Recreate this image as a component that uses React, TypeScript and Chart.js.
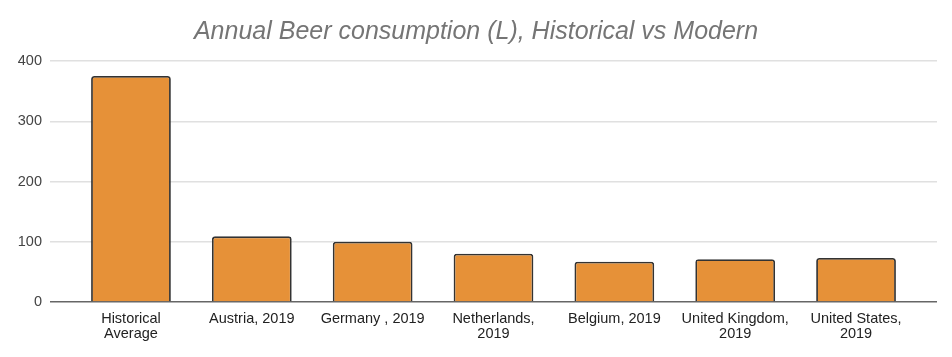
import React, { useEffect, useRef } from "react";
import { Chart, registerables } from "chart.js";

Chart.register(...registerables);

const categories: (string | string[])[] = [
  ["Historical", "Average"],
  "Austria, 2019",
  "Germany , 2019",
  ["Netherlands,", "2019"],
  "Belgium, 2019",
  ["United Kingdom,", "2019"],
  ["United States,", "2019"],
];
const consumption = [375, 109, 100, 80, 67, 71, 73];
const yTicks = [0, 100, 200, 300, 400];
const titleText = "Annual Beer consumption (L), Historical vs Modern";

const FONT = "'Liberation Sans', Arial, sans-serif";

export default function App() {
  const ref = useRef<HTMLCanvasElement>(null);
  useEffect(() => {
    document.body.style.margin = "0";
    const ctx = ref.current!;
    const chart = new Chart(ctx, {
      type: "bar",
      data: {
        datasets: [
          {
            data: consumption.map((v, i) => ({ x: i, y: v })),
            backgroundColor: "#e69138",
            borderColor: "#333333",
            borderWidth: 1.8,
            borderSkipped: "bottom",
            borderRadius: { topLeft: 3, topRight: 3, bottomLeft: 0, bottomRight: 0 },
            barPercentage: 0.66,
            categoryPercentage: 1,
          },
        ],
      },
      options: {
        animation: false,
        responsive: false,
        maintainAspectRatio: false,
        layout: { padding: { left: 15, right: 15, top: 0, bottom: 0 } },
        plugins: {
          legend: { display: false },
          tooltip: { enabled: false },
          title: {
            display: true,
            text: titleText,
            color: "#757575",
            font: { family: FONT, size: 25, style: "italic", weight: "normal", lineHeight: 1.2 },
            padding: { top: 17, bottom: 14 },
          },
        },
        scales: {
          x: {
            type: "linear",
            offset: false,
            min: -0.67,
            max: 6.67,
            grid: { display: false },
            border: { display: false },
            afterBuildTicks: (scale: any) => {
              scale.ticks = categories.map((_, i) => ({ value: i }));
            },
            afterFit: (scale: any) => {
              scale.height = 55;
            },
            ticks: {
              autoSkip: false,
              maxRotation: 0,
              padding: 1,
              color: "#222222",
              font: { family: FONT, size: 14.5, lineHeight: 1.05 },
              callback: (v: any) => categories[Number(v)] as any,
            },
          },
          y: {
            min: 0,
            max: 400,
            afterBuildTicks: (scale: any) => {
              scale.ticks = yTicks.map((v) => ({ value: v }));
            },
            afterFit: (scale: any) => {
              scale.width = 35;
            },
            border: { display: false },
            grid: {
              drawTicks: false,
              lineWidth: 1.5,
              color: (c: any) => (c.tick && c.tick.value === 0 ? "#666666" : "#e0e0e0"),
            },
            ticks: {
              padding: 8,
              color: "#444444",
              font: { family: FONT, size: 14.5 },
            },
          },
        },
      },
    } as any);
    return () => chart.destroy();
  }, []);
  return (
    <div style={{ width: 952, height: 357 }}>
      <canvas ref={ref} width={952} height={357} style={{ display: "block" }} />
    </div>
  );
}
